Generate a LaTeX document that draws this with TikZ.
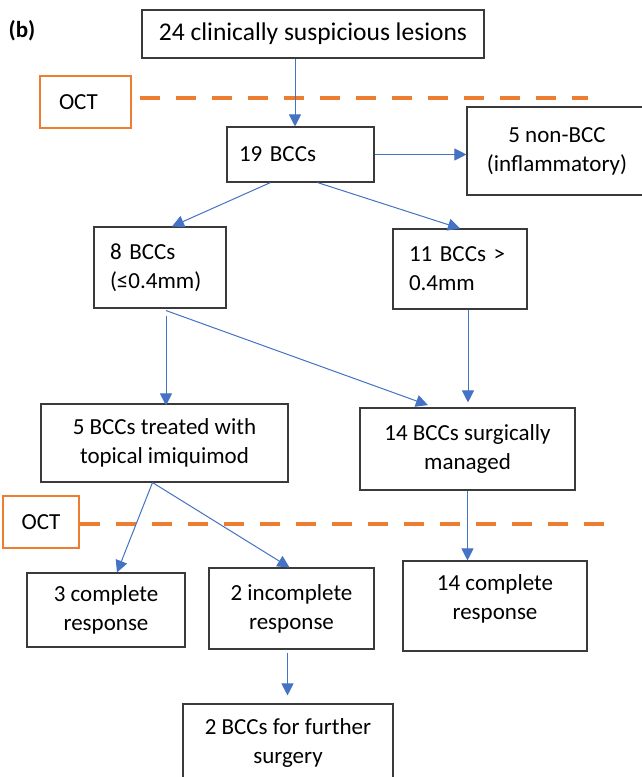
\documentclass[tikz,border=0pt]{standalone}
\usepackage{fontspec}
\setmainfont{Carlito}
\usetikzlibrary{arrows.meta,calc}
\definecolor{arrblue}{HTML}{4472C4}
\definecolor{octorange}{HTML}{ED7D31}
\definecolor{boxgray}{HTML}{3A3A3A}
\begin{document}
\begin{tikzpicture}[x=1pt,y=-1pt,
  box/.style={draw=boxgray,line width=1.1pt,fill=white,rectangle,inner sep=0pt,
    font=\fontsize{23}{29}\selectfont,align=center},
  lbox/.style={box,align=left},
  octbox/.style={draw=octorange,line width=2.2pt,fill=white,rectangle,inner sep=0pt,
    font=\fontsize{23}{29}\selectfont},
  arr/.style={draw=arrblue,line width=1pt,-{Triangle[length=12pt,width=12pt,fill=arrblue]}},
  octline/.style={draw=octorange,line width=4.5pt,dash pattern=on 20pt off 16pt}]
\useasboundingbox (0,0) rectangle (642,777);
\clip (0,0) rectangle (642,777);
\fill[white] (0,0) rectangle (642,777);

\node[font=\fontsize{23}{27}\selectfont\bfseries] (lab) at (22,31) {(b)};

\node[box,minimum width=342pt,minimum height=48pt,font=\fontsize{25.5}{30}\selectfont] (b1) at (313,34) {24 clinically suspicious lesions};
\node[octbox,minimum width=91pt,minimum height=52pt,inner xsep=19pt,text width=53pt,align=left] (oct1) at (85.5,102) {OCT};
\node[lbox,minimum width=147pt,minimum height=55pt,inner xsep=12pt,text width=123pt] (b2) at (300.5,154.5) {19 BCCs};
\node[box,minimum width=180pt,minimum height=88pt] (b3) at (557,151) {5 non-BCC\\(inflammatory)};
\node[lbox,minimum width=132pt,minimum height=81pt,inner xsep=16pt,text width=100pt] (b4) at (160,267.5) {8 BCCs\\(≤0.4mm)};
\node[lbox,minimum width=134pt,minimum height=80pt,inner xsep=16pt,text width=102pt] (b5) at (460,269) {11 BCCs >\\0.4mm};
\node[box,minimum width=247pt,minimum height=78pt] (b6) at (164.5,443) {5 BCCs treated with\\topical imiquimod};
\node[box,minimum width=215pt,minimum height=82pt] (b7) at (467.5,449) {14 BCCs surgically\\managed};
\node[octbox,minimum width=76pt,minimum height=52pt] (oct2) at (41,522) {OCT};
\node[box,minimum width=158pt,minimum height=74pt] (b8) at (106,610) {3 complete\\response};
\node[box,minimum width=165pt,minimum height=81pt] (b9) at (291.5,608.5) {2 incomplete\\response};
\node[box,minimum width=184pt,minimum height=90pt] (b10) at (495,606) {\raisebox{0pt}[\height][\dimexpr\depth+14pt\relax]{\parbox{170pt}{\centering\fontsize{23}{29}\selectfont 14 complete\\response}}};
\node[box,minimum width=210pt,minimum height=78pt] (b11) at (288,743) {2 BCCs for further\\surgery};

\coordinate (d1end) at (588,98);
\coordinate (d2end) at (605,524);
\draw[octline] ([xshift=8pt,yshift=4pt]oct1.east) -- (d1end);
\draw[octline] ([yshift=-2pt]oct2.east) -- (d2end);

\draw[arr] ([xshift=-18pt]b1.south) -- ([xshift=-18pt]b1.south |- b2.north);
\draw[arr] (b2.east) -- (b2.east -| b3.west);
\draw[arr] ([xshift=-30pt]b2.south) -- ([xshift=12pt]b4.north);
\draw[arr] ([xshift=17pt]b2.south) -- (b5.north);
\draw[arr,shorten >=5pt] ([xshift=6pt,yshift=-7pt]b4.south) -- ([xshift=6pt,yshift=-7pt]b4.south |- b6.north);
\draw[arr,shorten >=7pt] ([xshift=6pt,yshift=-2pt]b4.south) -- ([xshift=-33pt]b7.north);
\draw[arr,shorten >=5pt] ([xshift=8pt]b5.south) -- ([xshift=8pt]b5.south |- b7.north);
\draw[arr] ([xshift=-12pt]b6.south) -- ([xshift=11pt]b8.north);
\draw[arr] ([xshift=-12pt]b6.south) -- ([xshift=-2pt]b9.north);
\draw[arr] (b7.south) -- (b7.south |- b10.north);
\draw[arr,shorten >=11pt] ([xshift=-4pt,yshift=-3pt]b9.south) -- ([xshift=-4pt,yshift=-3pt]b9.south |- b11.north);
\end{tikzpicture}
\end{document}
